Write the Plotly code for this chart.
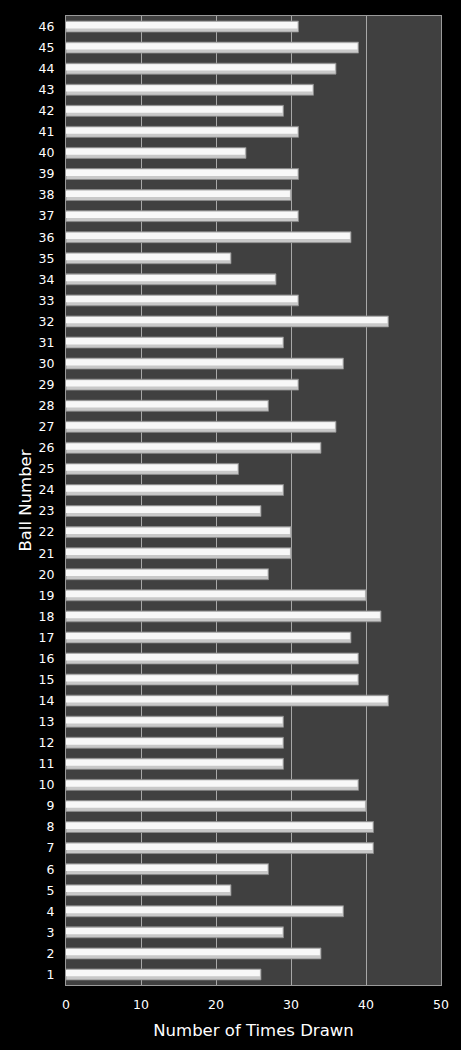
"""Ball draw frequency chart"""

import plotly.graph_objects as go

ball_numbers = list(range(1, 47))
times_drawn = [26, 34, 29, 37, 22, 27, 41, 41, 40, 39,
               29, 29, 29, 43, 39, 39, 38, 42, 40, 27,
               30, 30, 26, 29, 23, 34, 36, 27, 31, 37,
               29, 43, 31, 28, 22, 38, 31, 30, 31, 24,
               31, 29, 33, 36, 39, 31]
x_ticks = [0, 10, 20, 30, 40, 50]

FONT = "DejaVu Sans"

fig = go.Figure()
# base bar, slightly darker to give the edge
fig.add_trace(go.Bar(
    x=times_drawn, y=ball_numbers, orientation="h",
    width=0.52, offset=-0.26,
    marker=dict(color="#c8c8c8", line=dict(color="#8a8a8a", width=0.8)),
    hoverinfo="x+y", showlegend=False,
))
# highlight band on the upper part of each bar
fig.add_trace(go.Bar(
    x=[v - 0.15 for v in times_drawn], y=ball_numbers, orientation="h",
    width=0.30, offset=-0.09,
    marker=dict(color="#f8f8f8", line=dict(width=0)),
    hoverinfo="skip", showlegend=False,
))

fig.update_layout(
    width=461, height=1050,
    margin=dict(l=66, r=20, t=16, b=65),
    paper_bgcolor="black", plot_bgcolor="#404040",
    barmode="overlay",
    font=dict(family=FONT, color="white", size=12),
    xaxis=dict(
        range=[0, 50], tickvals=x_ticks, ticks="",
        showgrid=True, gridcolor="#a8a8a8", gridwidth=1,
        zeroline=False, showline=True, linecolor="#9a9a9a", mirror=True,
        title=dict(text="Number of Times Drawn", font=dict(size=16.5), standoff=13),
        tickfont=dict(size=12.5), ticklabelstandoff=8,
    ),
    yaxis=dict(
        range=[0.5, 46.5], tickvals=ball_numbers, ticks="",
        showgrid=False, zeroline=False, showline=True, linecolor="#9a9a9a", mirror=True,
        title=dict(text="Ball Number", font=dict(size=16.5), standoff=2),
        tickfont=dict(size=12.5), ticklabelstandoff=8,
    ),
)

# page has a default 8px body margin; drop it so the figure sits at 0,0
fig.write_html("out.html", config={"displayModeBar": False},
               post_script="document.body.style.margin='0';")
